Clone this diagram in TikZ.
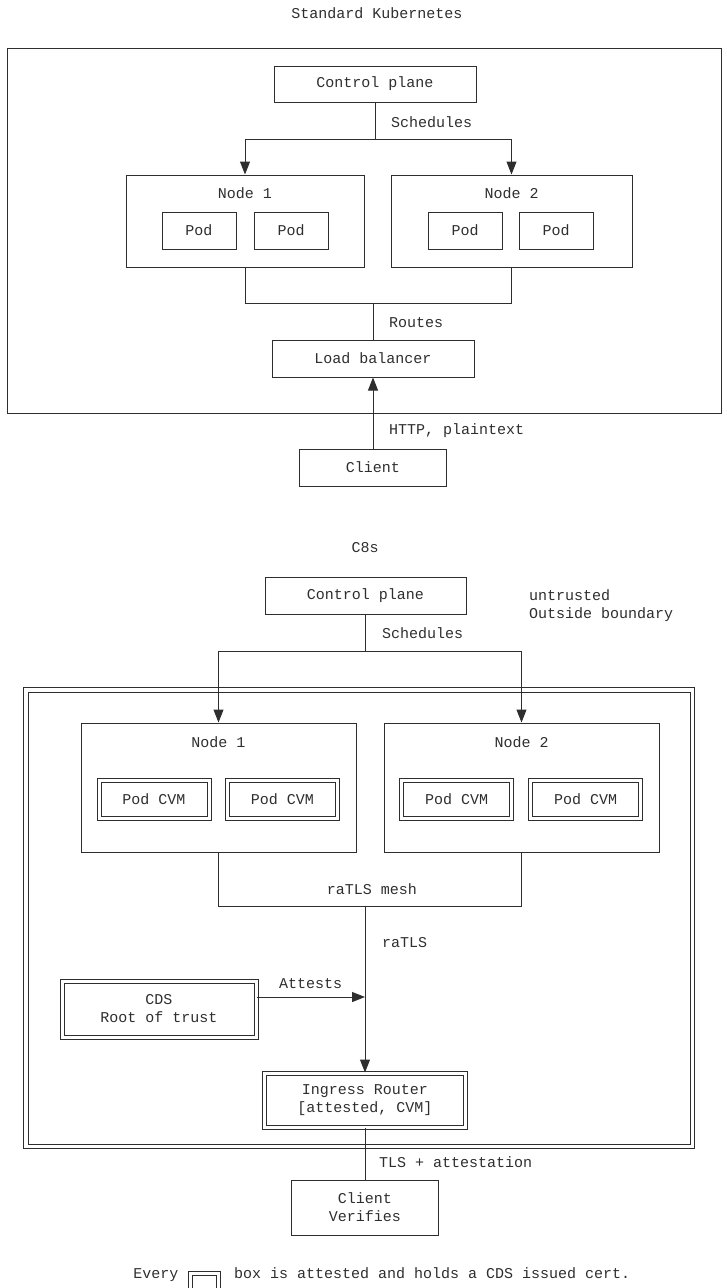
\documentclass[tikz,border=0pt]{standalone}
\usepackage{fontspec}
\setmonofont{Liberation Mono}
\usetikzlibrary{
    arrows.meta,
    positioning,
    calc
}
\definecolor{ink}{HTML}{2E2E2E}
\newcommand{\lblfont}{\ttfamily\fontsize{15}{18}\selectfont}
\tikzset{
    % --- Plain box (component) ---
    box/.style = {
        rectangle, draw=ink, line width=1pt,
        inner sep=0pt, align=center,
        font=\lblfont, text=ink
    },
    % --- Attested box (double border) ---
    attested/.style = {
        box, double=white, double distance=3pt
    },
    % --- Boundary frame ---
    frame/.style = {
        draw=ink, line width=1pt
    },
    % --- Text label ---
    label/.style = {
        font=\lblfont, text=ink,
        inner sep=0pt, align=left
    },
    % --- Plain wire ---
    wire/.style = {
        draw=ink, line width=1pt
    },
    % --- Data flow arrow ---
    data arrow/.style = {
        wire, -{Triangle[length=13pt,width=10pt]}
    }
}

\begin{document}
\begin{tikzpicture}[x=1pt, y=-1pt]
\useasboundingbox (0,0) rectangle (727,1288);

% ---------------------------------------------------------
% Standard Kubernetes
% ---------------------------------------------------------
\node[label] (TitleK) at (377,13) {Standard Kubernetes};
\draw[frame] (7,48) rectangle (721,413);

\node[box, minimum width=202pt, minimum height=36pt] (CtrlK) at (375,84) {Control plane};

\node[box, minimum width=238pt, minimum height=92pt] (NodeK1) at (245,221) {};
\node[box, minimum width=241pt, minimum height=92pt] (NodeK2) at (511.5,221) {};
\node[label] (NodeK1Lbl) at ($(NodeK1.north)+(0,19)$) {Node 1};
\node[label] (NodeK2Lbl) at ($(NodeK2.north)+(0,19)$) {Node 2};

\node[box, minimum width=74pt, minimum height=37pt] (PodK1a) at (199,230.5) {Pod};
\node[box, minimum width=74pt, minimum height=37pt] (PodK1b) at (291,230.5) {Pod};
\node[box, minimum width=74pt, minimum height=37pt] (PodK2a) at (465,230.5) {Pod};
\node[box, minimum width=74pt, minimum height=37pt] (PodK2b) at (556,230.5) {Pod};

\node[box, minimum width=202pt, minimum height=37pt] (LbK) at (373,358.5) {Load balancer};
\node[box, minimum width=147pt, minimum height=37pt] (ClientK) at (373,467.5) {Client};

% scheduling branch
\coordinate (brK) at (375,139);
\draw[wire] (CtrlK) -- (brK);
\draw[data arrow] (brK) -| (NodeK1.north);
\draw[data arrow] (brK) -| (NodeK2.north);
\node[label, anchor=west] at (391,122) {Schedules};

% routing join
\coordinate (joinK) at (373,303);
\draw[wire] (NodeK1.south) |- (NodeK2.south |- joinK) -- (NodeK2.south);
\draw[wire] (joinK) -- (LbK.north);
\node[label, anchor=west] at (389,323) {Routes};

% client request
\draw[data arrow] (ClientK.north) -- (LbK.south);
\node[label, anchor=west] at (389,431) {HTTP, plaintext};

% ---------------------------------------------------------
% C8s
% ---------------------------------------------------------
\node[label] (TitleC) at (365,548) {C8s};

\node[box, minimum width=201pt, minimum height=37pt] (CtrlC) at (365.5,595.5) {Control plane};
\node[label, anchor=west] (Untrusted) at (529,606) {untrusted\\Outside boundary};

% trusted boundary (double frame)
\draw[frame] (23,687) rectangle (694,1148);
\draw[frame] (28,692) rectangle (690,1144);

\node[box, minimum width=275pt, minimum height=129pt] (NodeC1) at (218.5,787.5) {};
\node[box, minimum width=275pt, minimum height=129pt] (NodeC2) at (521.5,787.5) {};
\node[label] (NodeC1Lbl) at ($(NodeC1.north)+(0,20)$) {Node 1};
\node[label] (NodeC2Lbl) at ($(NodeC2.north)+(0,20)$) {Node 2};

\node[attested, minimum width=110pt, minimum height=38pt] (PodC1a) at (154,799) {Pod CVM};
\node[attested, minimum width=110pt, minimum height=38pt] (PodC1b) at (282.5,799) {Pod CVM};
\node[attested, minimum width=110pt, minimum height=38pt] (PodC2a) at (456.5,799) {Pod CVM};
\node[attested, minimum width=110pt, minimum height=38pt] (PodC2b) at (585.5,799) {Pod CVM};

\node[attested, minimum width=194pt, minimum height=56pt] (Cds) at (159,1009) {CDS\\Root of trust};
\node[attested, minimum width=201pt, minimum height=54pt] (Ingress) at (365,1100) {Ingress Router\\{[attested, CVM]}};
\node[box, minimum width=147pt, minimum height=55pt] (ClientC) at (365,1207.5) {Client\\Verifies};

% scheduling branch
\coordinate (brC) at (365.5,651);
\draw[wire] (CtrlC) -- (brC);
\draw[data arrow] (brC) -| (NodeC1.north);
\draw[data arrow] (brC) -| (NodeC2.north);
\node[label, anchor=west] at (382,633) {Schedules};

% raTLS mesh
\coordinate (meshC) at (365,906);
\draw[wire] (NodeC1.south) |- (NodeC2.south |- meshC) -- (NodeC2.south);
\node[label] at (372,889) {raTLS mesh};
\draw[data arrow] (meshC) -- (Ingress.north);
\node[label, anchor=west] at (382,943) {raTLS};

% attestation from CDS
\coordinate (attC) at (365,997);
\draw[data arrow] (Cds.east |- attC) -- (attC)
    node[label, midway, above=8pt] {Attests};

% client connection
\draw[wire] (Ingress.south) -- (ClientC.north);
\node[label, anchor=west] at (379,1162) {TLS + attestation};

% ---------------------------------------------------------
% Legend
% ---------------------------------------------------------
\node[label, anchor=base] (LegEvery) at (156,1278) {Every};
\node[attested, minimum width=28pt, minimum height=28pt] (LegBox) at (204,1287) {};
\node[label, anchor=base west] (LegText) at (234,1278) {box is attested and holds a CDS issued cert.};

\end{tikzpicture}
\end{document}
